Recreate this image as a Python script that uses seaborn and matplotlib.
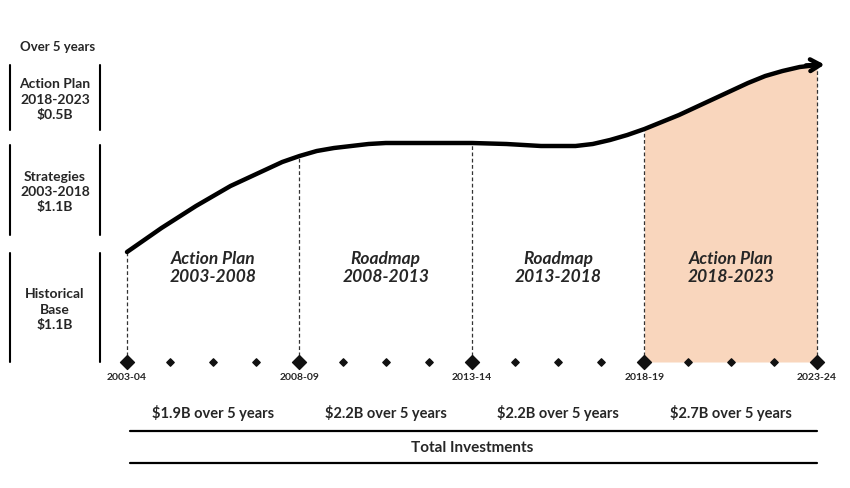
import numpy as np
import pandas as pd
import seaborn as sns
import matplotlib.pyplot as plt

# DATA
years = [2003.0, 2003.5, 2004.0, 2004.5, 2005.0, 2005.5, 2006.0, 2006.5, 2007.0,
         2007.5, 2008.0, 2008.5, 2009.0, 2009.5, 2010.0, 2010.5, 2011.0, 2012.0,
         2013.0, 2013.5, 2014.0, 2014.5, 2015.0, 2015.5, 2016.0, 2016.5, 2017.0,
         2017.5, 2018.0, 2018.5, 2019.0, 2019.5, 2020.0, 2020.5, 2021.0, 2021.5,
         2022.0, 2022.5, 2023.0]
level = [110, 122, 134, 145, 156, 166, 176, 184, 192,
         200, 206, 211, 214, 216, 218, 219, 219, 219,
         219, 218.5, 218, 217, 216, 216, 216, 218, 222,
         227, 233, 240, 247, 255, 263, 271, 279, 286,
         291, 295, 297]
milestones = [2003, 2008, 2013, 2018, 2023]
milestone_labels = ['2003-04', '2008-09', '2013-14', '2018-19', '2023-24']
periods = ['Action Plan\n2003-2008', 'Roadmap\n2008-2013',
           'Roadmap\n2013-2018', 'Action Plan\n2018-2023']
amounts = ['$1.9B over 5 years', '$2.2B over 5 years',
           '$2.2B over 5 years', '$2.7B over 5 years']
side_labels = ['Action Plan\n2018-2023\n$0.5B', 'Strategies\n2003-2018\n$1.1B',
               'Historical\nBase\n$1.1B']

sns.set_theme(style='white')
plt.rcParams['font.family'] = ['Lato', 'DejaVu Sans']

W, H = 850, 488
fig = plt.figure(figsize=(W / 100, H / 100), dpi=100)
ax = fig.add_axes([0, 0, 1, 1])
ax.set_axis_off()

# x: years, 2003 -> 127px, 2023 -> 817px ; y: px above baseline (362px)
ppy = (817 - 127) / 20
ax.set_xlim(2003 - 127 / ppy, 2023 + (W - 817) / ppy)
ax.set_ylim(-(H - 362), 362)


def fx(x):
    return x / W


def fy(y):
    return 1 - y / H


df = pd.DataFrame({'year': years, 'level': level})
curve = dict(zip(years, level))

# shaded last period
last = df[df['year'] >= 2018]
ax.fill_between(last['year'], 0, last['level'], color='#f9d6bd', lw=0, zorder=1)

# dashed verticals
for m in milestones:
    ax.plot([m, m], [0, curve[m]], ls=(0, (3, 2)), color='#333333', lw=0.9, zorder=2)

# curve
sns.lineplot(data=df, x='year', y='level', ax=ax, color='black', lw=3.2,
             zorder=4, solid_capstyle='round', solid_joinstyle='round')
ax.annotate('', xy=(2023.3, curve[2023] + 0.5), xytext=(2022.6, curve[2023] - 0.5),
            arrowprops=dict(arrowstyle='->,head_length=0.6,head_width=0.35',
                            lw=3.2, color='black'), zorder=5)

# timeline diamonds
minor = [m + f for m in milestones[:-1] for f in (1.25, 2.5, 3.75)]
ax.scatter(minor, [0] * len(minor), marker='D', s=14, color='#111111', zorder=5)
ax.scatter(milestones, [0] * len(milestones), marker='D', s=50, color='#111111', zorder=5)
for m, lab in zip(milestones, milestone_labels):
    ax.text(m, -15, lab, ha='center', va='center', fontsize=7.5, fontweight='bold')

# period names and amounts
for i, (p, a) in enumerate(zip(periods, amounts)):
    xc = milestones[i] + 2.5
    ax.text(xc, 94, p, ha='center', va='center', fontsize=12.5,
            fontweight='bold', style='italic', linespacing=1.15)
    ax.text(xc, -51, a, ha='center', va='center', fontsize=10.5, fontweight='bold')

# total investments band
ax.plot([2003.1, 2023], [-69, -69], color='black', lw=1.6)
ax.plot([2003.1, 2023], [-101, -101], color='black', lw=1.6)
ax.text(2013, -86, 'Total Investments', ha='center', va='center',
        fontsize=11, fontweight='bold')

# left side panel
fig.text(fx(58), fy(47), 'Over 5 years', ha='center', va='center',
         fontsize=9.5, fontweight='bold')
boxes = [(65, 130), (145, 235), (253, 362)]
for (y0, y1), lab in zip(boxes, side_labels):
    for xb in (10, 100):
        fig.add_artist(plt.Line2D([fx(xb), fx(xb)], [fy(y0), fy(y1)],
                                  color='black', lw=1.5))
    fig.text(fx(55), fy((y0 + y1) / 2 + 2), lab, ha='center', va='center',
             fontsize=10, fontweight='bold', linespacing=1.3)

fig.savefig('out.png', dpi=100)
